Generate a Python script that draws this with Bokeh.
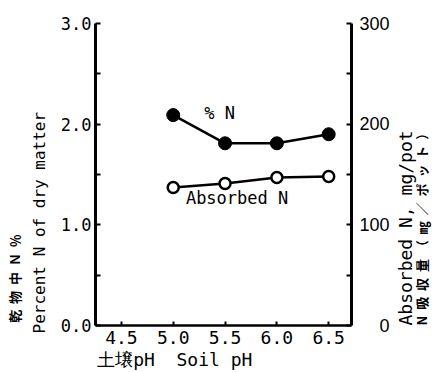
import math
from bokeh.plotting import figure
from bokeh.models import LinearAxis, Range1d, FixedTicker, Label
from bokeh.embed import file_html
from bokeh.resources import INLINE

# Data
ph = [5.0, 5.5, 6.0, 6.5]
pct_n = [2.09, 1.81, 1.81, 1.90]          # % N of dry matter (left axis)
absorbed_n = [137, 141, 147, 148]         # absorbed N, mg/pot (right axis)

x_ticks = [4.5, 5.0, 5.5, 6.0, 6.5]
left_ticks = [0.0, 1.0, 2.0, 3.0]
left_minor = [0.5, 1.5, 2.5]
right_ticks = [0, 100, 200, 300]
right_minor = [50, 150, 250]

MONO = "DejaVu Sans Mono"
SANS = "Liberation Sans"
CJK = "Noto Sans CJK JP"
NB = "\u00a0"
IS = "\u3000"

p = figure(width=444, height=372,
           x_range=Range1d(4.25, 6.72), y_range=Range1d(0, 3.0),
           output_backend="svg", toolbar_location=None,
           min_border_left=95, min_border_right=93,
           min_border_top=23, min_border_bottom=44)
p.extra_y_ranges = {"abs": Range1d(0, 300)}
p.outline_line_color = None
p.xgrid.visible = False
p.ygrid.visible = False
p.background_fill_color = "white"
p.border_fill_color = "white"

# bottom axis
xa = p.xaxis[0]
xa.ticker = FixedTicker(ticks=x_ticks)
xa.major_label_overrides = {v: f"{v:.1f}" for v in x_ticks}
xa.axis_line_width = 2.5
xa.major_tick_in = 4
xa.major_tick_out = 0
xa.major_tick_line_width = 2
xa.minor_tick_line_color = None
xa.major_label_text_font = MONO
xa.major_label_text_font_size = "18px"
xa.major_label_text_color = "black"
xa.major_label_standoff = 5
xa.axis_label = "土壌pH" + NB * 2 + "Soil pH" + NB * 9
xa.axis_label_text_font = MONO
xa.axis_label_text_font_size = "18px"
xa.axis_label_text_font_style = "normal"
xa.axis_label_text_color = "black"
xa.axis_label_standoff = 2

# left axis
ya = p.yaxis[0]
ya.ticker = FixedTicker(ticks=left_ticks, minor_ticks=left_minor)
ya.major_label_overrides = {v: f"{v:.1f}" for v in left_ticks}
ya.axis_line_width = 3
ya.major_tick_in = 5
ya.major_tick_out = 0
ya.major_tick_line_width = 2
ya.minor_tick_in = 5
ya.minor_tick_out = 0
ya.minor_tick_line_width = 2
ya.major_label_text_font = MONO
ya.major_label_text_font_size = "17px"
ya.major_label_text_color = "black"
ya.major_label_standoff = 4
ya.axis_label = "Percent N of dry matter" + NB * 10
ya.axis_label_text_font = MONO
ya.axis_label_text_font_size = "16px"
ya.axis_label_text_font_style = "normal"
ya.axis_label_text_color = "black"
ya.axis_label_standoff = 9

# Japanese title on the left (label-only axis)
ja = LinearAxis()
ja.ticker = FixedTicker(ticks=[])
ja.axis_line_color = None
ja.major_tick_line_color = None
ja.minor_tick_line_color = None
ja.major_label_text_font_size = "0px"
ja.axis_label = (NB * 2).join(["乾", "物", "中", "Ｎ", "％"]) + IS * 16
ja.axis_label_text_font = CJK
ja.axis_label_text_font_size = "13px"
ja.axis_label_text_font_style = "bold"
ja.axis_label_text_color = "black"
ja.axis_label_standoff = 3
p.add_layout(ja, "left")

# right axis (ticks and tick labels)
ra = LinearAxis(y_range_name="abs")
ra.ticker = FixedTicker(ticks=right_ticks, minor_ticks=right_minor)
ra.major_label_overrides = {0: "\u2007\u20070", 100: "100", 200: "200", 300: "300"}
ra.axis_line_width = 3
ra.major_tick_in = 5
ra.major_tick_out = 0
ra.major_tick_line_width = 2
ra.minor_tick_in = 5
ra.minor_tick_out = 0
ra.minor_tick_line_width = 2
ra.major_label_text_font = SANS
ra.major_label_text_font_size = "18px"
ra.major_label_text_color = "black"
ra.major_label_standoff = 8
p.add_layout(ra, "right")

# right titles, reading bottom to top, drawn as one rotated tick label each
def right_title(text, font, size, weight, standoff):
    ax = LinearAxis(y_range_name="abs")
    ax.ticker = FixedTicker(ticks=[0])
    ax.major_label_overrides = {0: text}
    ax.major_label_orientation = math.pi / 2
    ax.axis_line_color = None
    ax.major_tick_line_color = None
    ax.minor_tick_line_color = None
    ax.major_tick_in = 0
    ax.major_tick_out = 0
    ax.major_label_text_font = font
    ax.major_label_text_font_size = size
    ax.major_label_text_font_style = weight
    ax.major_label_text_color = "black"
    ax.major_label_standoff = standoff
    p.add_layout(ax, "right")

right_title("Absorbed N, mg/pot", MONO, "18px", "normal", 13)
right_title((NB * 2).join(["N", "吸", "収", "量", "（", "㎎", "／", "ポ", "ッ", "ト", "）"]),
            CJK, "13px", "bold", -8)

# series
p.line(ph, pct_n, line_width=2.5, color="black")
p.scatter(ph, pct_n, size=13, fill_color="black", line_color="black")
p.line(ph, absorbed_n, y_range_name="abs", line_width=2.5, color="black")
p.scatter(ph, absorbed_n, y_range_name="abs", size=11, fill_color="white",
          line_color="black", line_width=2.5)

def lab(x, y, text, font, size):
    p.add_layout(Label(x=x, y=y, text=text, text_font=font,
                       text_font_size=size, text_color="black",
                       text_align="center", text_baseline="middle"))

# in-plot labels
lab(5.447, 2.114, "% N", MONO, "17px")
lab(5.616, 1.264, "Absorbed N", MONO, "17px")

open("out.html", "w").write(file_html(p, INLINE))
